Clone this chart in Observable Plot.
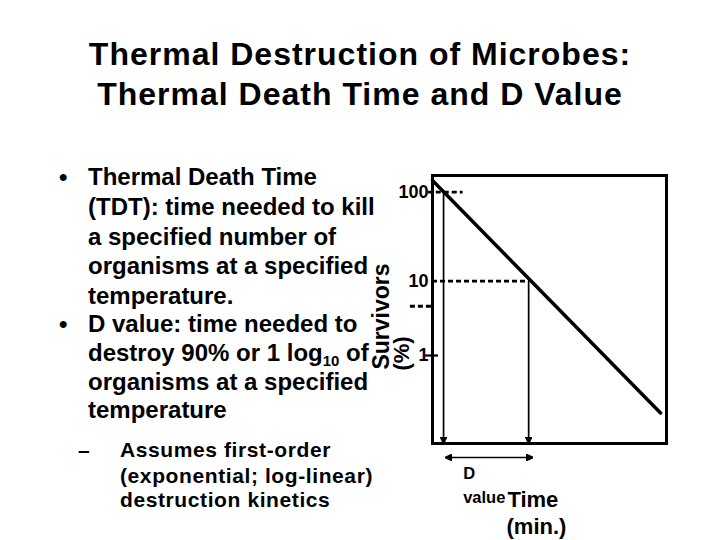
<!DOCTYPE html>
<html><head><meta charset="utf-8">
<script src="https://cdn.jsdelivr.net/npm/d3@7"></script>
<script src="https://cdn.jsdelivr.net/npm/@observablehq/plot@0.6"></script>
<style>
html,body{margin:0;padding:0;background:#fff;}
#page{position:relative;width:720px;height:540px;overflow:hidden;font-family:"Liberation Sans",Arial,sans-serif;font-weight:bold;color:#000;}
.ln{position:absolute;white-space:nowrap;line-height:1;}
.sub{font-size:15px;position:relative;top:5px;}
#chart{position:absolute;left:360px;top:150px;}
</style></head><body><div id="page"></div>
<script>
// ---- slide text ----
const titleLines = ["Thermal Destruction of Microbes:", "Thermal Death Time and D Value"];
const bullet1 = ["Thermal Death Time", "(TDT): time needed to kill", "a specified number of", "organisms at a specified", "temperature."];
const bullet2 = ["D value: time needed to", "destroy 90% or 1 log<span class='sub'>10</span> of", "organisms at a specified", "temperature"];
const subBullet = ["Assumes first-order", "(exponential; log-linear)", "destruction kinetics"];

// ---- chart data ----
const yTicks = [100, 10, 1];
const yTickLabels = ["100", "10", "1"];
const curveTime = [0, 2.68];          // minutes
const curveSurvivors = [135, 0.29];   // % survivors
const dTimes = [0.13, 1.13];          // times where curve reaches 100% and 10%
const dLevels = [100, 10];
const dSpan = [0.15, 1.18];
const yLabel = ["Survivors", "(%)"];
const xLabel = ["Time", "(min.)"];
const dLabel = ["D", "value"];

const page = document.getElementById("page");
function addLine(html, x, baseline, size, extra = {}) {
  const d = document.createElement("div");
  d.className = "ln";
  d.style.top = (baseline - 0.8465 * size) + "px";
  d.style.fontSize = size + "px";
  if (extra.center) { d.style.left = "0px"; d.style.width = "720px"; d.style.textAlign = "center"; }
  else d.style.left = x + "px";
  if (extra.ls) d.style.letterSpacing = extra.ls + "px";
  d.innerHTML = html;
  page.appendChild(d);
}
// title
addLine(titleLines[0], 0, 65.5, 32, {center: true, ls: 1});
addLine(titleLines[1], 0, 105, 32, {center: true, ls: 1});
// bullets
const b1Base = [185.5, 215, 245, 274.5, 304];
addLine("•", 59, b1Base[0], 24);
bullet1.forEach((t, i) => addLine(t, 88, b1Base[i], 24));
const b2Base = [332.5, 361, 390, 418.5];
addLine("•", 59, b2Base[0], 24);
bullet2.forEach((t, i) => addLine(t, 88, b2Base[i], 24));
const sBase = [457, 483, 507];
addLine("–", 78, sBase[0], 21);
subBullet.forEach((t, i) => addLine(t, 120, sBase[i], 21, {ls: 0.6}));

// ---- chart ----
function head(color) {
  const m = d3.create("svg:marker")
    .attr("viewBox", "-7 -3.5 7 7")
    .attr("markerWidth", 7).attr("markerHeight", 7)
    .attr("markerUnits", "userSpaceOnUse")
    .attr("orient", "auto-start-reverse")
    .attr("fill", color);
  m.append("path").attr("d", "M0,0L-7,-3.2L-7,3.2Z");
  return m.node();
}
const curve = curveTime.map((t, i) => ({t, s: curveSurvivors[i]}));
const dArrows = dTimes.map((t, i) => ({t, s: dLevels[i]}));
const yMin = 0.15;
const txt = {fontFamily: "Liberation Sans, Arial, sans-serif", fontWeight: "bold", fill: "black"};

const chart = Plot.plot({
  width: 360, height: 390,
  marginLeft: 72, marginRight: 54, marginTop: 25, marginBottom: 97,
  style: {background: "transparent", overflow: "visible"},
  x: {domain: [0, 2.75], axis: null},
  y: {type: "log", domain: [yMin, 1, 10, 100, 154], range: [293, 205, 130.7, 41.7, 25], axis: null},
  marks: [
    Plot.ruleY([100], {x1: -0.05, x2: 0.36, stroke: "black", strokeWidth: 2.8, strokeDasharray: "5,3"}),
    Plot.ruleY([10], {x1: 0, x2: 1.14, stroke: "black", strokeWidth: 2.8, strokeDasharray: "5,3"}),
    Plot.ruleY([4.6], {x1: -0.26, x2: 0, stroke: "black", strokeWidth: 2.8, strokeDasharray: "5,3"}),
    Plot.ruleY([1], {x1: -0.08, x2: 0.07, stroke: "black", strokeWidth: 2.2}),
    Plot.line(curve, {x: "t", y: "s", stroke: "black", strokeWidth: 3.5}),
    Plot.link(dArrows, {x1: "t", x2: "t", y1: "s", y2: () => yMin, stroke: "black", strokeWidth: 1.7, markerEnd: head}),
    Plot.link([0], {x1: () => dSpan[0], x2: () => dSpan[1], y1: () => yMin, y2: () => yMin, dy: 14, stroke: "black", strokeWidth: 1.7, markerStart: head, markerEnd: head}),
    Plot.frame({stroke: "black", strokeWidth: 3}),
    Plot.text(yTicks, {x: 0, y: d => d, text: (d, i) => yTickLabels[i], textAnchor: "end", lineAnchor: "middle", dx: -4, fontSize: 18, ...txt}),
    Plot.text([yLabel[0]], {frameAnchor: "left", rotate: -90, textAnchor: "middle", lineAnchor: "middle", dx: -51, dy: 7, fontSize: 23, ...txt}),
    Plot.text([yLabel[1]], {frameAnchor: "left", rotate: -90, textAnchor: "middle", lineAnchor: "middle", dx: -31, dy: 44, fontSize: 22, ...txt}),
    Plot.text([dLabel[0]], {x: () => 0.36, frameAnchor: "bottom", textAnchor: "start", lineAnchor: "middle", dy: 30, fontSize: 16.5, ...txt}),
    Plot.text([dLabel[1]], {x: () => 0.36, frameAnchor: "bottom", textAnchor: "start", lineAnchor: "middle", dy: 54, fontSize: 16.5, ...txt}),
    Plot.text([xLabel[0]], {x: () => 0.88, frameAnchor: "bottom", textAnchor: "start", lineAnchor: "middle", dy: 56, fontSize: 22, ...txt}),
    Plot.text([xLabel[1]], {x: () => 0.87, frameAnchor: "bottom", textAnchor: "start", lineAnchor: "middle", dy: 83, fontSize: 22, ...txt})
  ]
});
chart.id = "chart";
page.appendChild(chart);
</script></body></html>
